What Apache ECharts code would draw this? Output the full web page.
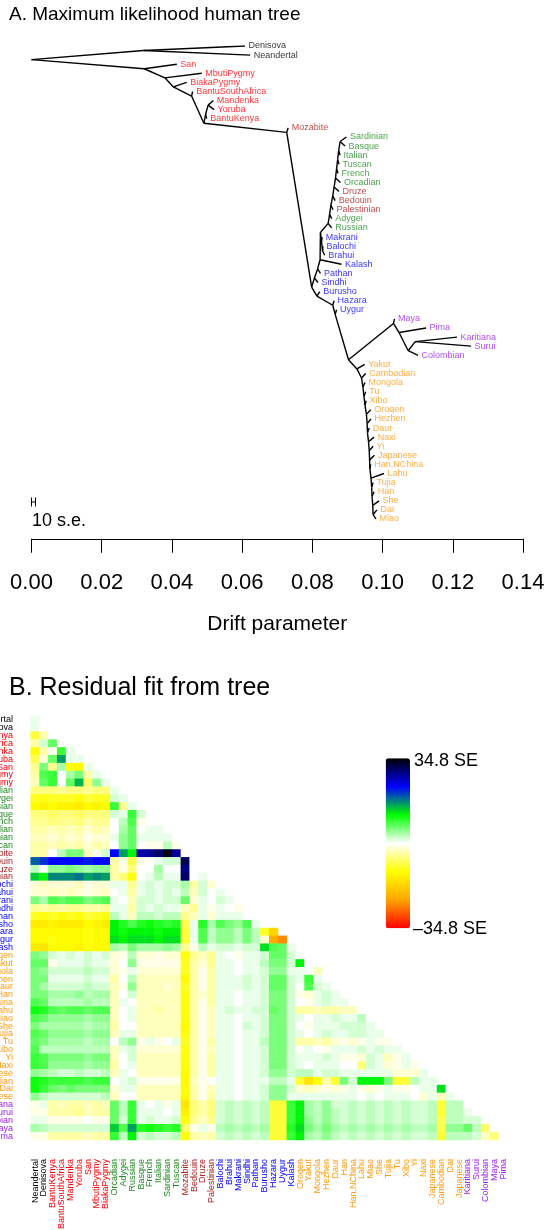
<!DOCTYPE html>
<html>
<head>
<meta charset="utf-8">
<script src="https://cdn.jsdelivr.net/npm/echarts@6/dist/echarts.min.js"></script>
<style>
  html, body { margin: 0; padding: 0; background: #fff; }
  #chart { width: 546px; height: 1230px; }
</style>
</head>
<body>
<div id="chart"></div>
<script>
// ---- population groups (also the row/column order of the residual matrix) ----
const archaic   = ['Neandertal', 'Denisova'];
const african   = ['BantuKenya', 'BantuSouthAfrica', 'Mandenka', 'Yoruba', 'San', 'MbutiPygmy', 'BiakaPygmy'];
const european  = ['Orcadian', 'Adygei', 'Russian', 'Basque', 'French', 'Italian', 'Sardinian', 'Tuscan'];
const mideast   = ['Mozabite', 'Bedouin', 'Druze', 'Palestinian'];
const southAsia = ['Balochi', 'Brahui', 'Makrani', 'Sindhi', 'Pathan', 'Burusho', 'Hazara', 'Uygur', 'Kalash'];
const eastAsia  = ['Oroqen', 'Yakut', 'Mongola', 'Hezhen', 'Daur', 'Han', 'Han.NChina', 'Lahu', 'Miao', 'She',
                   'Tujia', 'Tu', 'Xibo', 'Yi', 'Naxi', 'Japanese', 'Cambodian', 'Dai', 'Japanese'];
const america   = ['Karitiana', 'Surui', 'Colombian', 'Maya', 'Pima'];

const groupColors = {
  archaic: '#000000', african: '#FF0000', european: '#228B22', mideast: '#B22222',
  southAsia: '#0000FF', eastAsia: '#FF9A10', america: '#A020F0'
};
const groups = { archaic, african, european, mideast, southAsia, eastAsia, america };
function colorOf(name) {
  for (const g in groups) if (groups[g].includes(name)) return groupColors[g];
  return '#000';
}

// ---- tree: tips in plotting order (top to bottom) and their drift position ----
const tipNames = ['Denisova', 'Neandertal', 'San', 'MbutiPygmy', 'BiakaPygmy', 'BantuSouthAfrica', 'Mandenka',
  'Yoruba', 'BantuKenya', 'Mozabite', 'Sardinian', 'Basque', 'Italian', 'Tuscan', 'French', 'Orcadian', 'Druze',
  'Bedouin', 'Palestinian', 'Adygei', 'Russian', 'Makrani', 'Balochi', 'Brahui', 'Kalash', 'Pathan', 'Sindhi',
  'Burusho', 'Hazara', 'Uygur', 'Maya', 'Pima', 'Karitiana', 'Surui', 'Colombian', 'Yakut', 'Cambodian',
  'Mongola', 'Tu', 'Xibo', 'Oroqen', 'Hezhen', 'Daur', 'Naxi', 'Yi', 'Japanese', 'Han.NChina', 'Lahu', 'Tujia',
  'Han', 'She', 'Dai', 'Miao'];
const tipDrift = [0.0608, 0.0623, 0.0414, 0.0485, 0.0442, 0.0459, 0.0518,
  0.0520, 0.0499, 0.0731, 0.0897, 0.0893, 0.0879, 0.0876, 0.0873, 0.0880, 0.0876,
  0.0865, 0.0859, 0.0855, 0.0855, 0.0828, 0.0830, 0.0835, 0.0883, 0.0823, 0.0816,
  0.0821, 0.0862, 0.0869, 0.1034, 0.1124, 0.1212, 0.1252, 0.1101, 0.0949, 0.0952,
  0.0950, 0.0952, 0.0953, 0.0966, 0.0967, 0.0962, 0.0976, 0.0973, 0.0977, 0.0966, 0.1004, 0.0973,
  0.0976, 0.0990, 0.0984, 0.0981];

// internal nodes: [drift at node, upper child, lower child]
const westEurasia =
  [0.0845, [0.0849, [0.0853, [0.0858, [0.0862, [0.0866, [0.0869, [0.0872, [0.0875,
    [0.0879, 'Sardinian', 'Basque'], 'Italian'], 'Tuscan'], 'French'], 'Orcadian'], 'Druze'],
    'Bedouin'], 'Palestinian'], 'Adygei'], 'Russian'];
const eastAsiaClade =
  [0.0927, 'Yakut', [0.0940, 'Cambodian', [0.0944, 'Mongola', [0.0947, 'Tu', [0.0950, 'Xibo',
    [0.0954, 'Oroqen', [0.0956, 'Hezhen', [0.0957, 'Daur', [0.0960, 'Naxi', [0.0962, 'Yi',
    [0.0963, 'Japanese', [0.0964, 'Han.NChina', [0.0967, 'Lahu', [0.0969, 'Tujia', [0.0970, 'Han',
    [0.0972, 'She', [0.0973, 'Dai', 'Miao']]]]]]]]]]]]]]]]];
const americaClade =
  [0.1031, 'Maya', [0.1047, 'Pima', [0.1073, [0.1093, 'Karitiana', 'Surui'], 'Colombian']]];
const nonAfrican =
  [0.0798,
    [0.0806, [0.0815, [0.0822,
      [0.0823, westEurasia, [0.0826, 'Makrani', [0.0829, 'Balochi', 'Brahui']]],
      'Kalash'], 'Pathan'], 'Sindhi'],
    [0.0813, 'Burusho', [0.0858, 'Hazara', [0.0865, 'Uygur', [0.0903, americaClade, eastAsiaClade]]]]];
const treeTopology =
  [0.0, [0.0319, 'Denisova', 'Neandertal'],
    [0.0321, 'San', [0.0380, 'MbutiPygmy', [0.0404, 'BiakaPygmy', [0.0456, 'BantuSouthAfrica',
      [0.0491, [0.0496, [0.0503, 'Mandenka', 'Yoruba'], 'BantuKenya'],
        [0.0727, 'Mozabite', nonAfrican]]]]]]];

// ---- residual matrix (lower triangle, in SE units), rows follow the group order above ----
const residRows = [
  [1],
  [1, 0],
  [-9, -4, 0],
  [-4, 2, 7, 0],
  [-11, -4, -1, 9, 1],
  [-8, -2, 7, 16, 1, 1],
  [-5, 6, -5, 4, -11, -12, 1],
  [-4, 8, 9, 0, 4, 6, -4, 1],
  [-3, 7, 9, 0, 7, 15, -7, 5, 1],
  [-6, -6, -6, -5, -6, -6, -5, -6, -6, 1],
  [-10, -11, -10, -10, -10, -11, -9, -10, -10, 2, 1],
  [-12, -13, -12, -13, -13, -14, -12, -13, -12, 9, -5, 1],
  [-6, -6, -7, -6, -6, -7, -6, -6, -6, 2, 1, 9, 2],
  [-5, -5, -6, -5, -5, -6, -4, -5, -5, 0, 3, 8, -1, 0],
  [-4, -4, -3, -4, -3, -4, -2, -4, -3, 0, 4, 7, 0, 1, 1],
  [-3, -3, -2, -3, -2, -3, -1, -2, -2, 1, 5, 7, 1, 1, 1, 1],
  [-4, -4, -3, -4, -3, -4, -2, -4, -3, 0, 5, 7, 0, -1, -1, 3, -1],
  [-4, -4, 0, 3, 6, 6, -3, -1, 2, 23, 16, 12, 27, 28, 30, 34, 28, 0],
  [19, 21, 23, 23, 23, 23, 22, 23, 23, -4, -1, -8, -1, 0, 1, 2, 2, 31, 0],
  [3, 0, 5, 5, 6, 5, 4, 5, 5, -4, -1, -6, 0, 0, 4, 0, 0, 29, 0, 0],
  [14, 12, 17, 17, 17, 18, 16, 17, 16, -4, -6, -11, 0, 1, 3, 1, 1, 30, 0, 1, 0],
  [-2, -3, -2, -2, -2, -3, -1, -2, -2, 1, 1, -5, 1, 2, 1, 2, 2, 4, -4, 2, -2, 0],
  [-2, -2, -3, -2, -3, -2, -1, -2, -3, 0, 1, -4, 1, 2, 1, 2, 1, 3, -3, 2, 0, 1, 0],
  [6, 4, 8, 7, 8, 8, 6, 7, 8, 1, 0, -3, 2, 2, 1, 2, 2, 7, -2, 1, 0, 2, 1, 0],
  [-5, -4, -5, -4, -5, -5, -4, -4, -5, 1, 1, -4, 2, 1, 2, 1, 1, -3, -5, 1, -1, 1, 0, -1, 0],
  [-10, -11, -10, -11, -10, -11, -9, -10, -11, 3, 1, -3, 3, 3, 2, 3, 3, -5, -3, 1, -2, 1, 1, 1, 0, 0],
  [-14, -14, -13, -14, -14, -14, -12, -13, -14, 12, 10, 8, 10, 11, 10, 9, 10, -8, 1, 10, 4, 8, 6, 5, 8, 1, 0],
  [-12, -12, -12, -12, -12, -12, -11, -12, -12, 12, 11, 12, 12, 12, 11, 12, 12, -9, 1, 8, 3, 5, 5, 3, 6, 3, -10, -17],
  [-12, -12, -11, -12, -12, -12, -11, -12, -12, 13, 12, 13, 13, 13, 12, 13, 13, -9, 1, 8, 3, 5, 5, 3, 6, 3, -2, -22, -25],
  [-14, -15, -12, -12, -12, -13, -11, -12, -12, 4, 3, 6, 4, 4, 4, 5, 4, -5, -1, 3, 1, 2, 2, 1, 2, 2, 13, 8, 7, 1],
  [6, 5, 2, 1, 2, 1, 2, 1, 2, -2, -1, 3, -2, -2, -1, -2, -2, -11, -5, -3, -5, 1, 0, -1, 1, 1, 2, 7, 7, 2, 0],
  [7, 7, -1, 1, 1, 1, 2, 1, 1, -2, 0, 5, -1, -1, -1, -1, -1, -10, -4, -2, -5, 1, 1, 0, 1, 1, 3, 6, 6, 2, 12, 0],
  [6, 5, 2, 2, 2, 2, 3, 2, 2, -2, -1, 1, -2, -2, -2, -2, -2, -10, -4, -1, -4, 1, 1, 0, 1, 1, 2, 5, 5, 1, 1, 0, -3],
  [6, 6, 1, 1, 1, 1, 2, 1, 1, -4, 0, 3, -3, -3, -3, -3, -3, -12, -4, -1, -4, 1, 1, 1, 2, 1, 2, 7, 7, 2, 1, 9, 1, 0],
  [6, 4, 2, 2, 2, 2, 3, 2, 2, -3, -1, 5, -3, -3, -3, -2, -3, -10, -4, -1, -4, 1, 1, 1, 2, 1, 2, 7, 7, 2, 0, 8, 2, 1, 0],
  [6, 6, 4, 4, 4, 5, 3, 4, 4, -3, 0, 2, -3, -3, -3, -3, -3, -11, -4, -2, -4, 1, 1, 0, 1, 1, 2, 6, 6, 2, -1, -2, 1, 2, 1, 0],
  [8, 7, 3, 3, 3, 3, 4, 3, 3, -3, 1, 0, -3, -3, -3, -3, -3, -11, -4, -1, -4, 1, 1, 0, 1, 1, 2, 6, 6, 2, 0, -1, 1, 2, 1, 1, 0],
  [11, 10, 8, 7, 8, 8, 7, 8, 8, -3, 0, 1, -3, -3, -4, -3, -3, -11, -4, -1, -3, 1, 2, 1, 1, 2, 2, 7, 6, 2, -4, -4, -3, -4, -4, -3, -3, 0],
  [8, 7, 5, 5, 5, 5, 4, 5, 5, -3, 0, 1, -3, -3, -3, -3, -3, -11, -4, -1, -3, 1, 1, 0, 1, 1, 2, 6, 6, 2, 1, 0, 1, 1, 2, 1, 1, 3, 0],
  [6, 4, 4, 4, 4, 4, 3, 4, 4, -4, 0, 0, -3, -3, -3, -3, -3, -12, -4, -1, -3, 1, 1, 0, 2, 1, 2, 6, 6, 2, 0, -1, 1, 1, 1, 2, 2, 2, 1, 0],
  [8, 7, 5, 5, 5, 5, 4, 5, 5, -3, 1, 1, -3, -3, -3, -3, -3, -11, -4, -1, -3, 1, 1, 0, 1, 1, 2, 6, 6, 2, 1, 0, 1, 2, 1, 1, 2, 2, 1, 1, 0],
  [7, 6, 4, 4, 4, 4, 3, 4, 4, 0, 3, 5, -1, 1, -1, 0, 1, -10, -4, -1, -4, 1, 1, 0, 1, 1, 3, 6, 6, 2, -4, -4, -3, -4, -2, -1, -2, -1, 1, -1, -1, 0],
  [8, 3, 3, 3, 3, 3, 3, 3, 3, -3, 1, 2, -2, -2, -2, -2, -2, -11, -4, -1, -3, 1, 1, 0, 1, 1, 2, 6, 6, 2, 0, 1, 0, -1, 1, 1, 1, 2, 1, 2, 1, 1, 0],
  [9, 8, 6, 6, 6, 6, 5, 6, 6, -3, 0, 2, -3, -3, -3, -3, -3, -11, -4, -1, -4, 1, 1, 0, 1, 1, 2, 6, 6, 2, 1, 1, 1, 2, 1, -1, -1, -2, 2, 1, -3, -1, 1, 0],
  [9, 8, 5, 5, 5, 5, 4, 5, 5, -4, 0, 1, -3, -3, -3, -3, -3, -11, -4, -1, -4, 1, 1, 0, 1, 1, 2, 6, 6, 2, 1, 0, 1, 1, 1, 0, 0, -6, 2, 1, -2, -1, 1, -1, 0],
  [5, 4, 3, 2, 2, 3, 2, 2, 3, -3, 1, 0, -3, -3, -3, -3, -3, -12, -4, -1, -4, 1, 1, 0, 1, 1, 2, 5, 5, 2, 3, 3, 1, 2, 2, 1, 1, 1, 1, 1, 1, -2, -2, -2, 1, 0],
  [11, 10, 9, 9, 9, 9, 8, 9, 9, 0, 1, 2, -1, -1, -1, -1, -1, -12, -3, -1, 0, 1, 1, 0, 1, 1, 1, 3, 3, 1, -9, -15, -11, -4, -9, 6, 2, 12, 12, 12, 6, -9, -9, 3, 1, 1, 0],
  [11, 9, 7, 6, 7, 6, 6, 6, 6, -2, 1, 1, -3, -3, -3, -3, -3, -11, -4, -1, -3, 1, 1, 0, 1, 1, 2, 5, 5, 2, -2, -3, -2, -1, -2, -1, 1, -1, -2, -1, 1, -1, -1, 0, 1, 1, 13, 0],
  [5, 3, 2, 2, 2, 2, 2, 2, 3, -3, 0, 0, -3, -3, -3, -3, -3, -12, -4, -1, -4, 1, 1, 0, 1, 1, 2, 5, 5, 1, 1, 1, 1, 1, 1, 1, 1, 0, 1, 0, 1, 1, 1, 0, -2, 1, -3, 1, 0],
  [-1, 1, -4, -3, -4, -4, -3, -4, -3, 7, 3, 9, 1, 0, 1, -1, 1, -15, -6, -4, -6, 2, 3, 2, 3, 2, 3, -9, -9, 9, 12, 4, 3, 5, 2, 2, 3, 2, 3, 2, 3, 2, 3, 2, 2, 3, -9, 3, 3, 0],
  [-1, -1, -4, -4, -4, -5, -3, -4, -4, 7, 3, 9, 1, 1, 1, 0, 1, -13, -6, -4, -6, 2, 3, 2, 3, 2, 3, -9, -9, 9, 12, 4, 3, 5, 3, 2, 3, 2, 3, 2, 3, 2, 3, 2, 2, 3, -9, 3, 3, 1, 0],
  [1, 1, -1, -1, -1, -1, 0, -1, -1, 7, 2, 9, 1, 2, 1, 1, 2, -11, -5, -3, -5, 2, 3, 2, 3, 2, 3, -9, -9, 9, 12, 5, 3, 5, 3, 2, 3, 2, 3, 2, 3, 2, 3, 2, 2, 3, -8, 3, 3, 2, 2, 0],
  [4, 3, 2, 2, 2, 2, 2, 2, 2, 14, 8, 16, 10, 11, 10, 9, 10, -7, -1, 1, -1, 3, 4, 3, 4, 3, 4, -9, -9, 10, 13, 6, 4, 6, 4, 3, 4, 3, 4, 3, 4, 3, 4, 3, 3, 4, -8, 5, 5, 7, 3, -7, 0],
  [-1, -1, -4, -4, -4, -4, -3, -4, -4, 9, 3, 12, 2, 3, 2, 2, 3, -11, -4, -3, -4, 2, 3, 2, 3, 2, 3, -9, -9, 9, 12, 4, 3, 5, 3, 2, 3, 2, 3, 2, 3, 2, 3, 2, 2, 3, -9, 3, 3, 3, 2, -3, -6, 0]
];
const residMax = 34.8;
const residColors = ['#FF0000', '#FFA500', '#FFFF00', '#FFFFFF', '#00FF00', '#0000FF', '#000000'];

// ---- build tree edges: internal node sits at the boundary between its two children ----
const treeEdges = [];
function place(node) {
  if (typeof node === 'string') {
    const i = tipNames.indexOf(node);
    return { x: tipDrift[i], y: i, lo: i, hi: i };
  }
  const [x, a, b] = node;
  const A = place(a), B = place(b);
  const y = (A.hi + B.lo) / 2;
  treeEdges.push({ coords: [[x, y], [A.x, A.y]] }, { coords: [[x, y], [B.x, B.y]] });
  return { x, y, lo: A.lo, hi: B.hi };
}
place(treeTopology);

const tipPoints = tipNames.map((n, i) => ({
  name: n, value: [tipDrift[i], i], label: { color: colorOf(n) }
}));

const popNames = [...archaic, ...african, ...european, ...mideast, ...southAsia, ...eastAsia, ...america];
const heatData = [];
residRows.forEach((row, i) => row.forEach((v, j) => heatData.push([j, i, v])));

const FONT = '"Liberation Sans", Arial, Helvetica, sans-serif';
const chart = echarts.init(document.getElementById('chart'), null, { renderer: 'canvas', width: 546, height: 1230 });

chart.setOption({
  animation: false,
  backgroundColor: '#ffffff',
  textStyle: { fontFamily: FONT },
  title: [
    { text: 'A. Maximum likelihood human tree', left: 9, top: 5, padding: 0,
      textStyle: { fontSize: 19, fontWeight: 'normal', color: '#000', fontFamily: FONT } },
    { text: 'B. Residual fit from tree', left: 9, top: 676, padding: 0,
      textStyle: { fontSize: 25, fontWeight: 'normal', color: '#000', fontFamily: FONT } }
  ],
  grid: [
    { left: 31.5, top: 46, width: 491.5, height: 473, outerBoundsMode: 'none', containLabel: false },
    { left: 30.7, top: 716, width: 477, height: 424, outerBoundsMode: 'none', containLabel: false }
  ],
  xAxis: [
    { gridIndex: 0, type: 'value', min: 0, max: 0.14, interval: 0.02, offset: 19.75,
      axisLine: { show: true, onZero: false, lineStyle: { color: '#000', width: 1 } },
      axisTick: { show: true, length: 14, lineStyle: { color: '#000', width: 1 } },
      axisLabel: { fontSize: 22, color: '#000', margin: 33, fontFamily: FONT, formatter: v => v.toFixed(2) },
      splitLine: { show: false },
      name: 'Drift parameter', nameLocation: 'middle', nameGap: 75,
      nameTextStyle: { fontSize: 21, color: '#000', fontFamily: FONT } },
    { gridIndex: 1, type: 'category', data: popNames, position: 'bottom',
      axisLine: { show: false, onZero: false }, axisTick: { show: false }, splitLine: { show: false },
      axisLabel: { interval: 0, rotate: 90, fontSize: 9, margin: 19, fontFamily: FONT,
        color: (v, i) => colorOf(popNames[i]) } }
  ],
  yAxis: [
    { gridIndex: 0, type: 'value', min: 0, max: 52, inverse: true, show: false },
    { gridIndex: 1, type: 'category', data: popNames, inverse: true,
      axisLine: { show: false, onZero: false }, axisTick: { show: false }, splitLine: { show: false },
      axisLabel: { interval: 0, fontSize: 9, margin: 17.7, fontFamily: FONT,
        color: (v, i) => colorOf(popNames[i]) } }
  ],
  visualMap: {
    type: 'continuous', seriesIndex: 2, min: -residMax, max: residMax,
    show: true, calculable: false, orient: 'vertical',
    left: 385.7, top: 758.3, itemWidth: 24.3, itemHeight: 170, padding: 0,
    inRange: { color: residColors }
  },
  series: [
    { type: 'lines', coordinateSystem: 'cartesian2d', xAxisIndex: 0, yAxisIndex: 0,
      data: treeEdges, silent: true,
      lineStyle: { color: '#000', width: 1.4, opacity: 1 } },
    { type: 'scatter', xAxisIndex: 0, yAxisIndex: 0, data: tipPoints, silent: true,
      symbolSize: 1, itemStyle: { color: 'rgba(0,0,0,0)' },
      label: { show: true, position: 'right', distance: 3, formatter: '{b}', fontSize: 9, fontFamily: FONT } },
    { type: 'heatmap', xAxisIndex: 1, yAxisIndex: 1, data: heatData, silent: true,
      itemStyle: { borderWidth: 0 } }
  ],
  graphic: [
    // 10 s.e. scale bar
    { type: 'line', shape: { x1: 31.5, y1: 497.5, x2: 31.5, y2: 506.5 }, style: { stroke: '#000', lineWidth: 1 } },
    { type: 'line', shape: { x1: 31.5, y1: 502, x2: 35.5, y2: 502 }, style: { stroke: '#000', lineWidth: 1 } },
    { type: 'line', shape: { x1: 35.5, y1: 497.5, x2: 35.5, y2: 506.5 }, style: { stroke: '#000', lineWidth: 1 } },
    { type: 'text', x: 32, y: 521, style: { text: '10 s.e.', fontSize: 18, fontFamily: FONT, fill: '#000', verticalAlign: 'middle' } },
    // colour bar end labels
    { type: 'text', x: 414, y: 761, style: { text: '34.8 SE', fontSize: 18, fontFamily: FONT, fill: '#000', verticalAlign: 'middle' } },
    { type: 'text', x: 413, y: 929, style: { text: '\u201334.8 SE', fontSize: 18, fontFamily: FONT, fill: '#000', verticalAlign: 'middle' } }
  ]
});
</script>
</body>
</html>
